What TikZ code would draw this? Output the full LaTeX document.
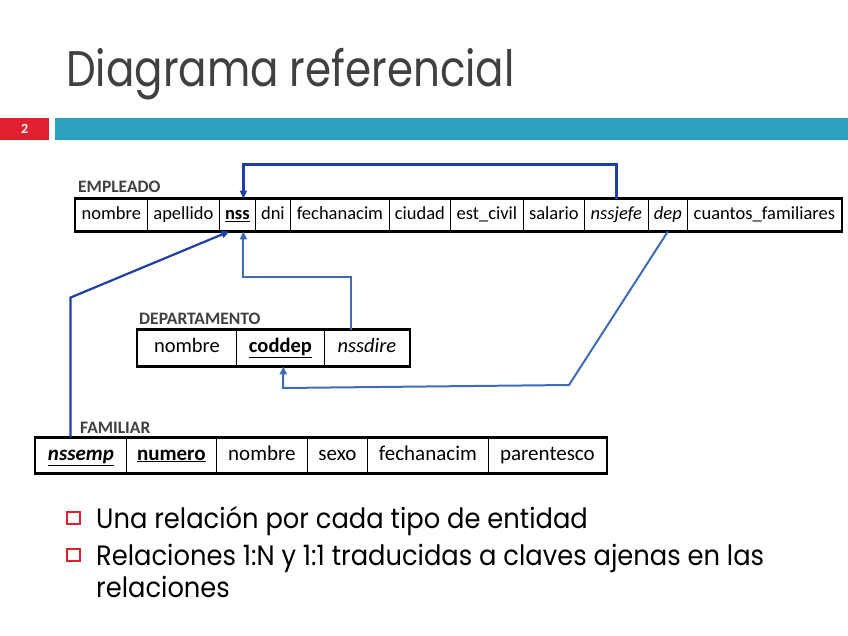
\documentclass[tikz,border=0pt]{standalone}
\usepackage{fontspec}
\setmainfont{Carlito}
\newfontfamily\titlefont[FakeStretch=0.84]{Poppins}
\newfontfamily\slidefont[FakeStretch=0.92]{Poppins}
\usetikzlibrary{arrows.meta}

\definecolor{titlegray}{HTML}{404040}
\definecolor{slidered}{HTML}{E0202E}
\definecolor{slideteal}{HTML}{2DA2BF}
\definecolor{fkdark}{HTML}{1F3FA8}
\definecolor{fklight}{HTML}{3E6DB5}

\begin{document}
\begin{tikzpicture}[x=1pt, y=-1pt,
    field/.style = {rectangle, draw, line width=0.8pt, anchor=west, inner sep=0pt, text height=0.9em, text depth=0pt},
    empfield/.style = {field, minimum height=32, font=\fontsize{18.5}{22}\selectfont},
    relfield/.style = {field, minimum height=36, font=\fontsize{20.5}{24}\selectfont},
    famfield/.style = {field, minimum height=35, font=\fontsize{21}{25}\selectfont},
    tableframe/.style = {draw, line width=2.4pt},
    tablename/.style = {anchor=west, inner sep=0pt, text=titlegray, font=\bfseries\fontsize{17.5}{20}\selectfont},
    fkdarkline/.style = {draw=fkdark, line width=2.2pt, -{Triangle[length=8pt, width=7pt]}},
    fklightline/.style = {draw=fklight, line width=2pt, -{Triangle[length=8pt, width=7pt]}},
    bulletbox/.style = {rectangle, draw=slidered, line width=1.8pt, minimum size=12.5, inner sep=0pt},
    bullettext/.style = {anchor=base west, inner sep=0pt, font=\slidefont\fontsize{28}{32}\selectfont}]
  \useasboundingbox (0, 0) rectangle (848, 636);

  % Title and header bar.
  \node at (66, 87) [anchor=base west, inner sep=0pt, text=titlegray, font=\titlefont\fontsize{50}{56}\selectfont, name=Title] {Diagrama referencial};
  \node at (0, 118) [anchor=north west, fill=slidered, minimum width=49, minimum height=22, inner sep=0pt, text=white, font=\bfseries\fontsize{14}{16}\selectfont, name=PageNumber] {2};
  \node at (55, 118) [anchor=north west, fill=slideteal, minimum width=793, minimum height=22, inner sep=0pt, name=HeaderBar] {};

  % EMPLEADO.
  \node at (78, 187) [tablename, name=EmpleadoName] {EMPLEADO};
  \node at (75, 215) [empfield, minimum width=72, name=EmpleadoNombre] {nombre};
  \node at (147, 215) [empfield, minimum width=72, name=EmpleadoApellido] {apellido};
  \node at (219, 215) [empfield, minimum width=36, name=EmpleadoNss] {\bfseries\underline{nss}};
  \node at (255, 215) [empfield, minimum width=35, name=EmpleadoDni] {dni};
  \node at (290, 215) [empfield, minimum width=99, name=EmpleadoFecha] {fechanacim};
  \node at (389, 215) [empfield, minimum width=61, name=EmpleadoCiudad] {ciudad};
  \node at (450, 215) [empfield, minimum width=73, name=EmpleadoCivil] {est\_civil};
  \node at (523, 215) [empfield, minimum width=61, name=EmpleadoSalario] {salario};
  \node at (584, 215) [empfield, minimum width=64, name=EmpleadoJefe] {\itshape nssjefe};
  \node at (648, 215) [empfield, minimum width=39, name=EmpleadoDep] {\itshape dep};
  \node at (687, 215) [empfield, minimum width=154, name=EmpleadoCuantos] {cuantos\_familiares};
  \draw [tableframe] (EmpleadoNombre.north west) rectangle (EmpleadoCuantos.south east);

  % DEPARTAMENTO.
  \node at (139, 319) [tablename, name=DepartamentoName] {DEPARTAMENTO};
  \node at (137, 348) [relfield, minimum width=99, name=DepartamentoNombre] {nombre};
  \node at (236, 348) [relfield, minimum width=88, name=DepartamentoCoddep] {\bfseries\underline{coddep}};
  \node at (324, 348) [relfield, minimum width=85, name=DepartamentoDire] {\itshape nssdire};
  \draw [tableframe] (DepartamentoNombre.north west) rectangle (DepartamentoDire.south east);

  % FAMILIAR.
  \node at (80, 428) [tablename, name=FamiliarName] {FAMILIAR};
  \node at (35, 455.5) [famfield, minimum width=91, name=FamiliarNssemp] {\bfseries\itshape\underline{nssemp}};
  \node at (126, 455.5) [famfield, minimum width=90, name=FamiliarNumero] {\bfseries\underline{numero}};
  \node at (216, 455.5) [famfield, minimum width=91, name=FamiliarNombre] {nombre};
  \node at (307, 455.5) [famfield, minimum width=60, name=FamiliarSexo] {sexo};
  \node at (367, 455.5) [famfield, minimum width=121, name=FamiliarFecha] {fechanacim};
  \node at (488, 455.5) [famfield, minimum width=118, name=FamiliarParentesco] {parentesco};
  \draw [tableframe] (FamiliarNssemp.north west) rectangle (FamiliarParentesco.south east);

  % Location for the bend from dep to coddep.
  \coordinate (depturn) at (569, 385);
  \coordinate (coddepturn) at (283, 388);

  % Foreign keys.
  \draw [fkdarkline] (EmpleadoJefe.north)
             -- ++(0, -34)
             -| ([xshift=6pt]EmpleadoNss.north);
  \draw [fkdarkline] ([xshift=-10.5pt]FamiliarNssemp.north)
             -- ++(0, -140)
             -- ([xshift=-8pt]EmpleadoNss.south);
  \draw [fklightline] ([xshift=-15.5pt]DepartamentoDire.north)
             -- ++(0, -53)
             -| ([xshift=6pt]EmpleadoNss.south);
  \draw [fklightline] (EmpleadoDep.south)
             -- (depturn)
             -- (coddepturn)
             -- ([xshift=3pt]DepartamentoCoddep.south);

  % Bullets.
  \node at (73.5, 518) [bulletbox, name=BulletOne] {};
  \node at (96, 528) [bullettext, name=TextOne] {Una relación por cada tipo de entidad};
  \node at (73.5, 555) [bulletbox, name=BulletTwo] {};
  \node at (96, 565) [bullettext, name=TextTwo] {Relaciones 1:N y 1:1 traducidas a claves ajenas en las};
  \node at (96, 597) [bullettext, name=TextThree] {relaciones};
\end{tikzpicture}
\end{document}
